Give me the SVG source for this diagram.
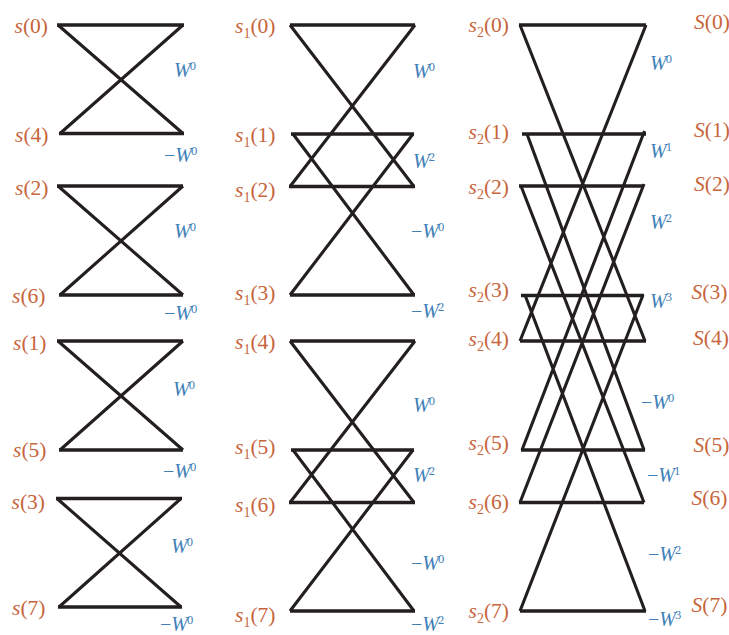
<svg xmlns="http://www.w3.org/2000/svg" width="729" height="635" viewBox="0 0 729 635">
<style>
text{font-family:"Liberation Serif","Times New Roman",serif}
.i{fill:#c7653c;font-size:21.500px}
.w{fill:#3f7fb8;font-size:20px}
.e{font-style:italic}
.s{font-size:14px}
.u{font-size:12.500px}
.b{fill:none;stroke:#231f20;stroke-width:3.500}
.d{fill:none;stroke:#231f20;stroke-width:3.100}
</style>
<g id="connectors">
<path class="b" d="M57 25H184M59 133.500H184M57 186H183M59 295H183M57 341H183M59 450H183M56 498.500H182M58 607H182"/>
<path class="d" d="M58 25L183 133.500M60 133.500L183 25M58 186L183 295M60 295L183 186M58 341L183 450M60 450L183 341M57 498.500L181 607M59 607L181 498.500"/>
<path class="b" d="M290 25H415M291 134H414M289 186.500H415M290 295H415M290 341H415M291 450H414M289 502.500H415M290 611H415"/>
<path class="d" d="M290 25L414 186.500M290 186.500L415 25M293 134L414 295M290 295L413 134M290 341L414 502.500M290 502.500L415 341M293 450L414 611M290 611L413 450"/>
<path class="b" d="M519 25H646M522 134H646M519 186H644M521 295.500H644M520 341H646M521 450H645M519 502.500H644M520 611H646"/>
<path class="d" d="M520 25L645 341M520 341L646 25M527 134L644 450M522 450L644.500 131M521 186L644 502.500M520 502.500L644 184M525 295L645 611M520 611L643 295"/>
</g>
<g id="inputs-0">
<text class="i" x="14.500" y="33"><tspan class="e">s</tspan>(0)</text>
<text class="i" x="15" y="141.500"><tspan class="e">s</tspan>(4)</text>
<text class="i" x="15" y="195"><tspan class="e">s</tspan>(2)</text>
<text class="i" x="12" y="303"><tspan class="e">s</tspan>(6)</text>
<text class="i" x="13" y="349.500"><tspan class="e">s</tspan>(1)</text>
<text class="i" x="13" y="457"><tspan class="e">s</tspan>(5)</text>
<text class="i" x="11.500" y="509"><tspan class="e">s</tspan>(3)</text>
<text class="i" x="12" y="615"><tspan class="e">s</tspan>(7)</text>
</g>
<g id="inputs-1">
<text class="i" x="235" y="33"><tspan class="e">s</tspan><tspan class="s" dy="5">1</tspan><tspan dy="-5">(0)</tspan></text>
<text class="i" x="235" y="141.500"><tspan class="e">s</tspan><tspan class="s" dy="5">1</tspan><tspan dy="-5">(1)</tspan></text>
<text class="i" x="235" y="196.500"><tspan class="e">s</tspan><tspan class="s" dy="5">1</tspan><tspan dy="-5">(2)</tspan></text>
<text class="i" x="235" y="300"><tspan class="e">s</tspan><tspan class="s" dy="5">1</tspan><tspan dy="-5">(3)</tspan></text>
<text class="i" x="235" y="349"><tspan class="e">s</tspan><tspan class="s" dy="5">1</tspan><tspan dy="-5">(4)</tspan></text>
<text class="i" x="235" y="454"><tspan class="e">s</tspan><tspan class="s" dy="5">1</tspan><tspan dy="-5">(5)</tspan></text>
<text class="i" x="235" y="512"><tspan class="e">s</tspan><tspan class="s" dy="5">1</tspan><tspan dy="-5">(6)</tspan></text>
<text class="i" x="235" y="622"><tspan class="e">s</tspan><tspan class="s" dy="5">1</tspan><tspan dy="-5">(7)</tspan></text>
</g>
<g id="inputs-2">
<text class="i" x="468.500" y="32"><tspan class="e">s</tspan><tspan class="s" dy="5">2</tspan><tspan dy="-5">(0)</tspan></text>
<text class="i" x="468.500" y="138.500"><tspan class="e">s</tspan><tspan class="s" dy="5">2</tspan><tspan dy="-5">(1)</tspan></text>
<text class="i" x="468.500" y="194"><tspan class="e">s</tspan><tspan class="s" dy="5">2</tspan><tspan dy="-5">(2)</tspan></text>
<text class="i" x="468.500" y="297"><tspan class="e">s</tspan><tspan class="s" dy="5">2</tspan><tspan dy="-5">(3)</tspan></text>
<text class="i" x="468.500" y="345.500"><tspan class="e">s</tspan><tspan class="s" dy="5">2</tspan><tspan dy="-5">(4)</tspan></text>
<text class="i" x="468.500" y="450"><tspan class="e">s</tspan><tspan class="s" dy="5">2</tspan><tspan dy="-5">(5)</tspan></text>
<text class="i" x="468.500" y="508.500"><tspan class="e">s</tspan><tspan class="s" dy="5">2</tspan><tspan dy="-5">(6)</tspan></text>
<text class="i" x="468.500" y="618"><tspan class="e">s</tspan><tspan class="s" dy="5">2</tspan><tspan dy="-5">(7)</tspan></text>
</g>
<g id="outputs">
<text class="i" x="694" y="29"><tspan class="e">S</tspan>(0)</text>
<text class="i" x="694" y="137"><tspan class="e">S</tspan>(1)</text>
<text class="i" x="694" y="191"><tspan class="e">S</tspan>(2)</text>
<text class="i" x="691.500" y="299"><tspan class="e">S</tspan>(3)</text>
<text class="i" x="693" y="345"><tspan class="e">S</tspan>(4)</text>
<text class="i" x="693.500" y="452"><tspan class="e">S</tspan>(5)</text>
<text class="i" x="691.500" y="504.500"><tspan class="e">S</tspan>(6)</text>
<text class="i" x="691.500" y="612"><tspan class="e">S</tspan>(7)</text>
</g>
<g id="twiddles-0">
<text class="w" x="174" y="76.500"><tspan class="e">W</tspan><tspan class="u" dx="-1" dy="-7">0</tspan></text>
<text class="w" x="164" y="161.500">−<tspan class="e">W</tspan><tspan class="u" dx="-1" dy="-7">0</tspan></text>
<text class="w" x="174" y="238"><tspan class="e">W</tspan><tspan class="u" dx="-1" dy="-7">0</tspan></text>
<text class="w" x="164" y="320">−<tspan class="e">W</tspan><tspan class="u" dx="-1" dy="-7">0</tspan></text>
<text class="w" x="173" y="396"><tspan class="e">W</tspan><tspan class="u" dx="-1" dy="-7">0</tspan></text>
<text class="w" x="163" y="478">−<tspan class="e">W</tspan><tspan class="u" dx="-1" dy="-7">0</tspan></text>
<text class="w" x="171" y="553"><tspan class="e">W</tspan><tspan class="u" dx="-1" dy="-7">0</tspan></text>
<text class="w" x="160" y="630.500">−<tspan class="e">W</tspan><tspan class="u" dx="-1" dy="-7">0</tspan></text>
</g>
<g id="twiddles-1">
<text class="w" x="413" y="78"><tspan class="e">W</tspan><tspan class="u" dx="-1" dy="-7">0</tspan></text>
<text class="w" x="413" y="168"><tspan class="e">W</tspan><tspan class="u" dx="-1" dy="-7">2</tspan></text>
<text class="w" x="411" y="238">−<tspan class="e">W</tspan><tspan class="u" dx="-1" dy="-7">0</tspan></text>
<text class="w" x="411" y="318">−<tspan class="e">W</tspan><tspan class="u" dx="-1" dy="-7">2</tspan></text>
<text class="w" x="413" y="412"><tspan class="e">W</tspan><tspan class="u" dx="-1" dy="-7">0</tspan></text>
<text class="w" x="413" y="482"><tspan class="e">W</tspan><tspan class="u" dx="-1" dy="-7">2</tspan></text>
<text class="w" x="411" y="570">−<tspan class="e">W</tspan><tspan class="u" dx="-1" dy="-7">0</tspan></text>
<text class="w" x="411" y="630.500">−<tspan class="e">W</tspan><tspan class="u" dx="-1" dy="-7">2</tspan></text>
</g>
<g id="twiddles-2">
<text class="w" x="650" y="70"><tspan class="e">W</tspan><tspan class="u" dx="-1" dy="-7">0</tspan></text>
<text class="w" x="650" y="158"><tspan class="e">W</tspan><tspan class="u" dx="-1" dy="-7">1</tspan></text>
<text class="w" x="650" y="229"><tspan class="e">W</tspan><tspan class="u" dx="-1" dy="-7">2</tspan></text>
<text class="w" x="650" y="308"><tspan class="e">W</tspan><tspan class="u" dx="-1" dy="-7">3</tspan></text>
<text class="w" x="641" y="409">−<tspan class="e">W</tspan><tspan class="u" dx="-1" dy="-7">0</tspan></text>
<text class="w" x="647" y="482">−<tspan class="e">W</tspan><tspan class="u" dx="-1" dy="-7">1</tspan></text>
<text class="w" x="648" y="561">−<tspan class="e">W</tspan><tspan class="u" dx="-1" dy="-7">2</tspan></text>
<text class="w" x="648" y="626">−<tspan class="e">W</tspan><tspan class="u" dx="-1" dy="-7">3</tspan></text>
</g>
</svg>
